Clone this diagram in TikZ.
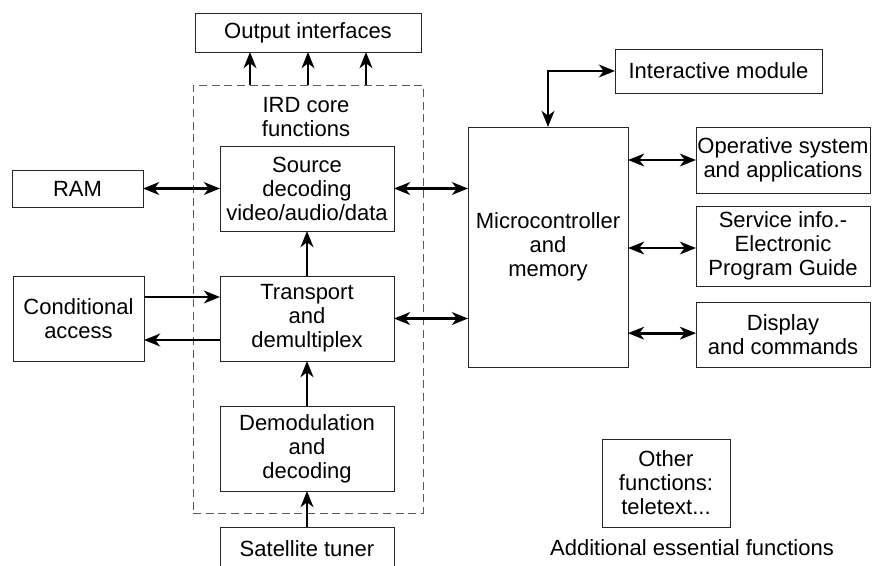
\documentclass[tikz,border=0pt]{standalone}
\usepackage{fontspec}
\setmainfont{Liberation Sans}
\usetikzlibrary{arrows.meta}

\tikzset{
	irdpicture/.style = {
		x = 0.75pt,
		y = -0.75pt,
		font = \fontsize{16.5}{18}\selectfont,
		arrow/.style = {
			draw,
			line width = 2pt,
			-{Stealth[length = 12pt, width = 9.5pt, inset = 3.5pt]},
		},
		biarrow/.style = {
			arrow,
			{Stealth[length = 12pt, width = 9.5pt, inset = 3.5pt]}-{Stealth[length = 12pt, width = 9.5pt, inset = 3.5pt]},
		}
	},
	block/.style = {
		draw = black!85,
		line width = 0.75pt,
		align = center,
		inner sep = 0pt,
		outer sep = 0pt
	},
	core/.style = {
		draw = black!65,
		dash pattern = on 6pt off 3.5pt,
		line width = 0.7pt,
		inner sep = 0pt
	}
}

\begin{document}
\begin{tikzpicture}[irdpicture]
	\useasboundingbox (0,0) rectangle (874,565);

	\node[core, minimum width = 172.5pt, minimum height = 321pt] (C) at (308,299) {};
	\node[align = center] (CT) at (306,117) {IRD core\\functions};

	\node[block, minimum width = 169.5pt, minimum height = 29.25pt] (O) at (308,32.5) {Output interfaces};

	\node[block, minimum width = 130.5pt, minimum height = 63.75pt] (S) at (307,188.5) {Source\\decoding\\video/audio/data};
	\node[block, minimum width = 130.5pt, minimum height = 63.75pt] (T) at (307,318.5) {Transport\\and\\demultiplex};
	\node[block, minimum width = 130.5pt, minimum height = 63.75pt] (D) at (307,448.5) {Demodulation\\and\\decoding};
	\node[block, minimum width = 130.5pt, minimum height = 32.25pt] (ST) at (307,548.5) {Satellite tuner};

	\node[block, minimum width = 98.25pt, minimum height = 27.75pt] (R) at (77.5,188.5) {RAM};
	\node[block, minimum width = 98.25pt, minimum height = 63.75pt] (CA) at (78.5,318.5) {Conditional\\access};

	\node[block, minimum width = 120pt, minimum height = 180pt] (M) at (548,247) {Microcontroller\\and\\memory};
	\node[block, minimum width = 155.25pt, minimum height = 33pt] (I) at (718.5,71) {Interactive module};

	\node[block, minimum width = 130.5pt, minimum height = 49.5pt] (OS) at (783,160) {Operative system\\and applications};
	\node[block, minimum width = 130.5pt, minimum height = 60pt] (SI) at (783,246) {Service info.-\\Electronic\\Program Guide};
	\node[block, minimum width = 130.5pt, minimum height = 48.75pt] (DC) at (783,334.5) {Display\\and commands};

	\node[block, minimum width = 96pt, minimum height = 66pt] (OF) at (666,483) {Other\\functions:\\teletext...};
	\node (AF) at (692,548) {Additional essential functions};

	\begin{scope}[every path/.style = arrow]
		\foreach \dx in {-58,0,58}
			\path ([xshift = \dx*0.75pt]C.north) -- ([xshift = \dx*0.75pt]C.north |- O.south);

		\path (T) -- (S);
		\path (D) -- (T);
		\path (ST) -- (D);

		\path ([yshift = -21pt*0.75]CA.north east) -- ([yshift = -21pt*0.75]CA.north east -| T.west);
		\path ([yshift = 21pt*0.75]T.south west) -- ([yshift = 21pt*0.75]T.south west -| CA.east);
	\end{scope}

	\begin{scope}[every path/.style = biarrow]
		\path (R) -- (S);
		\path (S.east) -- (S.east -| M.west);
		\path (T.east) -- (T.east -| M.west);

		\path (M.north) |- (I.west);

		\path (OS.west -| M.east) -- (OS.west);
		\path ([yshift = -1.5pt]SI.west -| M.east) -- ([yshift = -1.5pt]SI.west);
		\path ([yshift = 1pt]DC.west -| M.east) -- ([yshift = 1pt]DC.west);
	\end{scope}
\end{tikzpicture}
\end{document}
